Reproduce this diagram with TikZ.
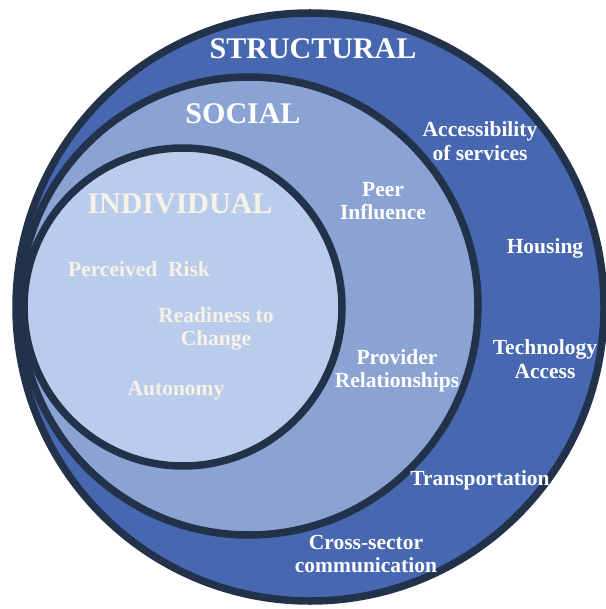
\documentclass[tikz,border=0pt]{standalone}
\usepackage{fontspec}
\setmainfont{Liberation Serif}
\usepackage{tikz}
\definecolor{ringline}{HTML}{22324A}
\definecolor{structfill}{HTML}{4767B1}
\definecolor{socialfill}{HTML}{8AA3D3}
\definecolor{indivfill}{HTML}{BACCEB}
\definecolor{cream}{HTML}{F7F2E6}
\tikzset{
    ring/.style={draw=ringline, line width=7.5pt},
    level/.style={text=white, font=\bfseries\fontsize{30}{32}\selectfont},
    factor/.style={text=white, align=center, inner sep=0pt, font=\bfseries\fontsize{21.5}{23.5}\selectfont}
}
\begin{document}
\begin{tikzpicture}[x=1pt,y=-1pt]
\useasboundingbox (0,0) rectangle (605,609);

% nested rings
\draw[ring, fill=structfill] (310,307) circle (294);
\draw[ring, fill=socialfill] (249,306) circle (229);
\draw[ring, fill=indivfill] (183,307) circle (159);

% level titles
\node[level] (structural) at (313,49) {STRUCTURAL};
\node[level] (social) at (243,114) {SOCIAL};
\node[level, text=cream] (individual) at (180,204) {INDIVIDUAL};

% structural factors
\node[factor] (access) at (480,141) {Accessibility\\of services};
\node[factor] (housing) at (545,248) {Housing};
\node[factor] (tech) at (545,359) {Technology\\Access};
\node[factor] (transport) at (480,480) {Transportation};
\node[factor] (cross) at (366,554) {Cross-sector\\communication};

% social factors
\node[factor] (peer) at (383,201) {Peer\\Influence};
\node[factor] (provider) at (397,371) {Provider\\Relationships};

% individual factors
\node[factor, text=cream] (risk) at (139,269) {Perceived\ \ Risk};
\node[factor, text=cream] (ready) at (216,329) {Readiness to\\Change};
\node[factor, text=cream] (autonomy) at (176,391) {Autonomy};
\end{tikzpicture}
\end{document}
